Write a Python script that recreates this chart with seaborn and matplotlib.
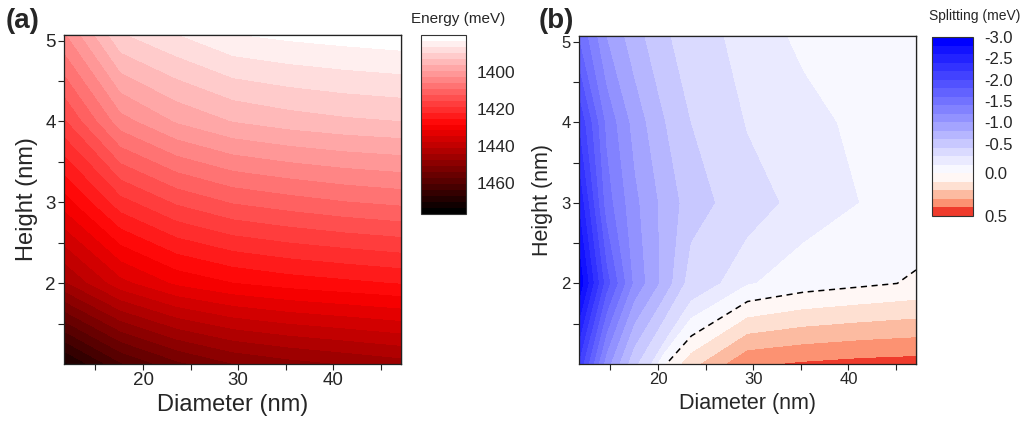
import numpy as np
import matplotlib
matplotlib.use("Agg")
import matplotlib.pyplot as plt
import seaborn as sns
from matplotlib.colors import LinearSegmentedColormap
from matplotlib.ticker import MultipleLocator, FixedLocator

# ---------------- data ----------------
diameter_a = [11.7, 17.6, 23.5, 29.4, 35.3, 41.2, 47.1]
height = [1.0, 2.0, 3.0, 4.0, 5.07]
# energy (meV), rows = height, columns = diameter_a
energy_h1 = [1471, 1461, 1455, 1451, 1449, 1447.5, 1446]
energy_h2 = [1445, 1436, 1431, 1428.5, 1427, 1426, 1425]
energy_h3 = [1430, 1420, 1415, 1412, 1410.5, 1409.2, 1408.3]
energy_h4 = [1416, 1404, 1399, 1396, 1394.5, 1393.5, 1392.9]
energy_h5 = [1403, 1390, 1386.5, 1383.3, 1382.3, 1381.6, 1381]

diameter_b = [11.7, 14.65, 17.6, 20.55, 23.5, 29.4, 35.3, 41.2, 47.1]
# splitting (meV), rows = height, columns = diameter_b
split_h1 = [-2.2, -1.1, -0.45, -0.02, 0.16, 0.38, 0.41, 0.43, 0.44]
split_h2 = [-3.0, -1.9, -1.15, -0.75, -0.30, -0.11, -0.05, -0.02, 0.01]
split_h3 = [-2.6, -1.5, -1.05, -0.75, -0.50, -0.27, -0.15, -0.10, -0.05]
split_h4 = [-2.2, -1.35, -0.92, -0.62, -0.40, -0.19, -0.13, -0.08, -0.05]
split_h5 = [-1.6, -1.0, -0.68, -0.45, -0.27, -0.15, -0.08, -0.06, -0.04]

height_ticks = [2, 3, 4, 5]
energy_ticks = [1400, 1420, 1440, 1460]
split_ticks = [-3.0, -2.5, -2.0, -1.5, -1.0, -0.5, 0.0, 0.5]
split_levels = [-3.0, -2.8, -2.6, -2.4, -2.2, -2.0, -1.8, -1.6, -1.4, -1.2,
                -1.0, -0.8, -0.6, -0.4, -0.2, -0.1, 0.0, 0.1, 0.2, 0.3, 0.4, 0.5]
split_colors = ["#0000ff", "#1212ff", "#2222ff", "#3232ff", "#4242ff", "#5252ff",
                "#6262ff", "#7272ff", "#8282ff", "#9292ff", "#a4a4ff", "#b6b6ff",
                "#c8c8ff", "#dadaff", "#eaeaff", "#f8f8ff",
                "#fff7f5", "#fee0d2", "#fcbba1", "#fc9272", "#ef3b2c"]

# ---------------- style ----------------
sns.set_theme(style="ticks")
plt.rcParams['font.family'] = ['Liberation Sans', 'DejaVu Sans']
plt.rcParams['axes.edgecolor'] = '#222222'
plt.rcParams['axes.linewidth'] = 0.9

W, H = 1022, 421
fig = plt.figure(figsize=(W / 100, H / 100), dpi=100)


def frac(l, t, r, b):
    return [l / W, 1 - b / H, (r - l) / W, (b - t) / H]


def style_axes(ax, tick_fs):
    ax.xaxis.set_major_locator(MultipleLocator(10))
    ax.xaxis.set_minor_locator(MultipleLocator(5))
    ax.yaxis.set_major_locator(FixedLocator(height_ticks))
    ax.yaxis.set_minor_locator(FixedLocator([1.5, 2.5, 3.5, 4.5]))
    ax.tick_params(which='both', direction='out', length=4, width=0.8,
                   color='#222222', labelsize=tick_fs, top=False, right=False)
    ax.tick_params(which='major', pad=2)
    secx = ax.secondary_xaxis('top')
    secx.xaxis.set_major_locator(MultipleLocator(10))
    secx.xaxis.set_minor_locator(MultipleLocator(5))
    secx.tick_params(which='both', direction='in', length=4, width=0.8,
                     color='#222222', labeltop=False)
    secy = ax.secondary_yaxis('right')
    secy.yaxis.set_major_locator(FixedLocator(height_ticks))
    secy.yaxis.set_minor_locator(FixedLocator([1.5, 2.5, 3.5, 4.5]))
    secy.tick_params(which='both', direction='in', length=4, width=0.8,
                     color='#222222', labelright=False)


# ---------------- panel (a) ----------------
axA = fig.add_axes(frac(64, 35, 401, 364))
E = np.array([energy_h1, energy_h2, energy_h3, energy_h4, energy_h5])
n_a = 30
levels_a = np.linspace(1380, 1477, n_a + 1)
wrk = LinearSegmentedColormap.from_list('wrk', ['#ffffff', '#ff0000', '#000000'])
colors_a = [wrk(i / (n_a - 1)) for i in range(n_a)]
cfA = axA.contourf(diameter_a, height, E, levels=levels_a, colors=colors_a)
axA.set_xlim(11.7, 47.1)
axA.set_ylim(1.0, 5.07)
style_axes(axA, 13.5)
axA.set_xlabel("Diameter (nm)", fontsize=17, labelpad=3)
axA.set_ylabel("Height (nm)", fontsize=17, labelpad=5)

caxA = fig.add_axes(frac(421, 35, 466, 214))
cbA = fig.colorbar(cfA, cax=caxA)
cbA.set_ticks(energy_ticks)
cbA.ax.invert_yaxis()
cbA.ax.tick_params(length=0, labelsize=12.5, pad=8)
cbA.outline.set_linewidth(0.8)
cbA.outline.set_edgecolor('#333333')
fig.text(458 / W, 1 - 19 / H, "Energy (meV)", ha='center', va='center', fontsize=11)

fig.text(23 / W, 1 - 21 / H, "(a)", ha='center', va='center', fontsize=20, fontweight='bold')

# ---------------- panel (b) ----------------
axB = fig.add_axes(frac(579, 36, 916, 364))
S = np.array([split_h1, split_h2, split_h3, split_h4, split_h5])
cfB = axB.contourf(diameter_b, height, S, levels=split_levels, colors=split_colors)
axB.contour(diameter_b, height, S, levels=[0.0], colors='black',
            linewidths=1.1, linestyles=[(0, (4, 3))])
axB.set_xlim(11.7, 47.1)
axB.set_ylim(1.0, 5.07)
style_axes(axB, 12)
axB.set_xlabel("Diameter (nm)", fontsize=15.5, labelpad=4)
axB.set_ylabel("Height (nm)", fontsize=15.5, labelpad=6)

caxB = fig.add_axes(frac(932, 37, 973, 216))
cbB = fig.colorbar(cfB, cax=caxB)
cbB.set_ticks(split_ticks)
cbB.set_ticklabels([f"{t:.1f}" for t in split_ticks])
cbB.ax.invert_yaxis()
cbB.ax.tick_params(length=0, labelsize=12, pad=8)
cbB.outline.set_linewidth(0.8)
cbB.outline.set_edgecolor('#333333')
fig.text(929 / W, 1 - 16 / H, "Splitting (meV)", ha='left', va='center', fontsize=10)

fig.text(556 / W, 1 - 21 / H, "(b)", ha='center', va='center', fontsize=20, fontweight='bold')

fig.savefig("out.png", dpi=100)
